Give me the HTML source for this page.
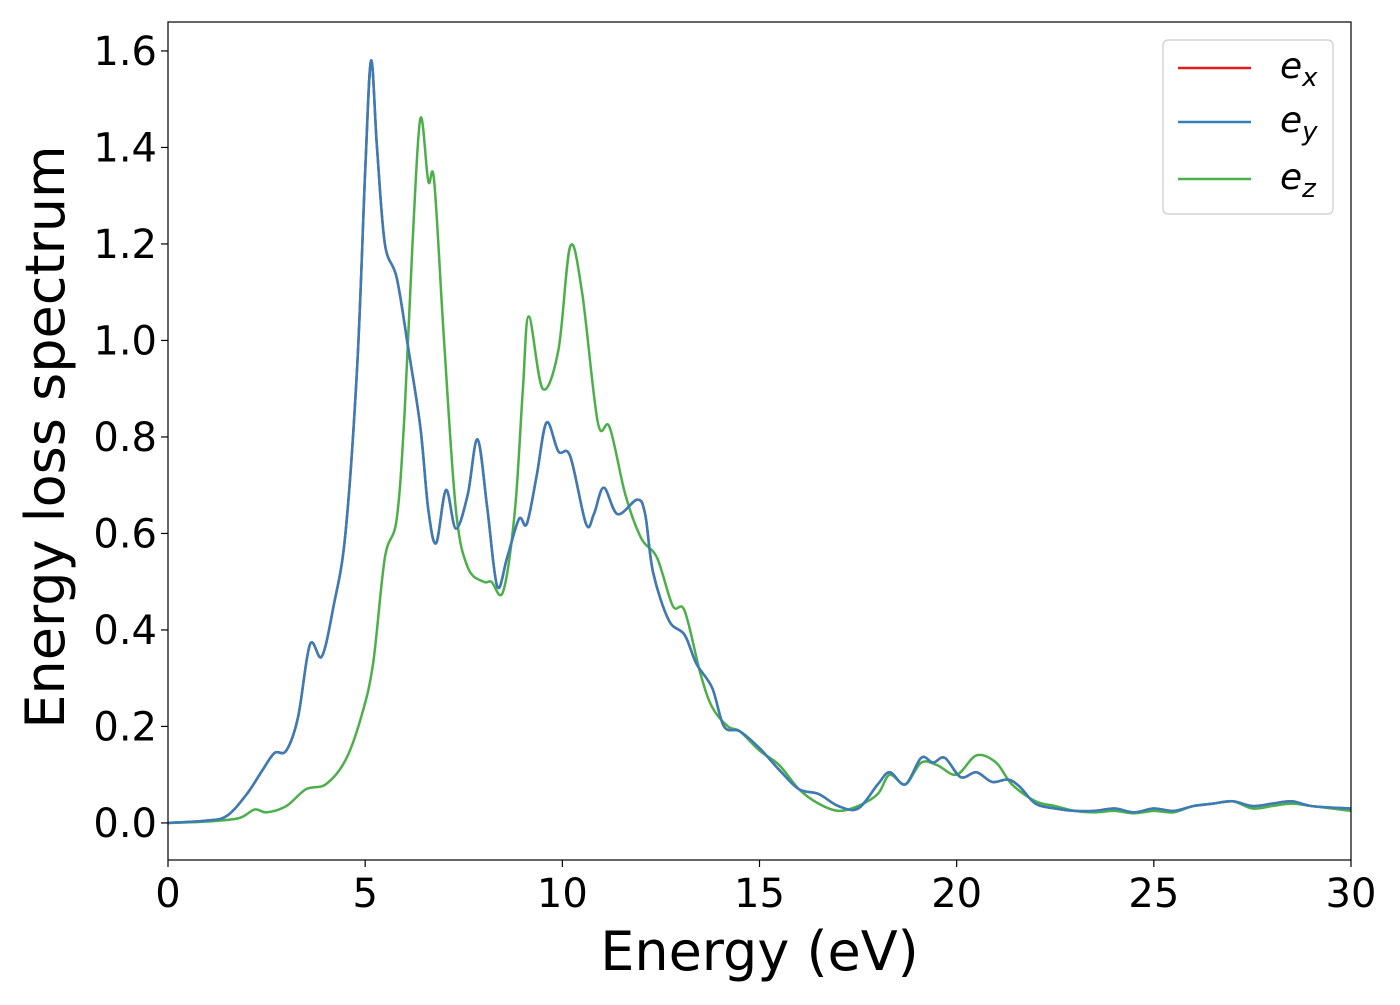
<!DOCTYPE html>
<html><head><meta charset="utf-8"><style>
body{margin:0;background:#fff;}
svg text{font-family:"DejaVu Sans","Liberation Sans",sans-serif;fill:#000;}
</style></head><body>
<svg width="1400" height="1000" xmlns="http://www.w3.org/2000/svg">
<g id="plot"></g>
</svg>
<script>
const xTicks=[0,5,10,15,20,25,30];
const yTicks=[0.0,0.2,0.4,0.6,0.8,1.0,1.2,1.4,1.6];
const exX=[0,1,1.5,2,2.4,2.7,3.0,3.3,3.6,3.9,4.2,4.5,4.8,5.0,5.15,5.3,5.5,5.8,6.1,6.4,6.6,6.8,7.05,7.3,7.6,7.85,8.1,8.35,8.6,8.9,9.1,9.35,9.6,9.9,10.2,10.6,10.8,11.05,11.4,11.9,12.1,12.3,12.7,13.1,13.4,13.8,14.1,14.5,15,15.5,16,16.5,17,17.5,18,18.3,18.7,19.1,19.4,19.7,20.1,20.5,20.9,21.3,21.6,22,22.5,23,23.5,24,24.5,25,25.5,26,26.5,27,27.5,28,28.5,29,30];
const exY=[0,0.005,0.015,0.06,0.11,0.145,0.15,0.22,0.37,0.345,0.45,0.6,0.95,1.35,1.58,1.4,1.2,1.13,0.98,0.82,0.65,0.58,0.69,0.61,0.68,0.795,0.65,0.49,0.55,0.63,0.62,0.72,0.83,0.77,0.76,0.62,0.64,0.695,0.64,0.67,0.64,0.52,0.42,0.39,0.33,0.28,0.2,0.19,0.155,0.11,0.07,0.06,0.035,0.03,0.08,0.105,0.08,0.135,0.125,0.135,0.095,0.105,0.085,0.09,0.075,0.04,0.03,0.025,0.025,0.03,0.022,0.03,0.025,0.035,0.04,0.045,0.035,0.04,0.045,0.035,0.03];
const eyX=exX;
const eyY=exY;
const ezX=[0,1,1.8,2.2,2.5,3,3.5,4,4.5,4.9,5.2,5.5,5.8,6.0,6.2,6.4,6.6,6.75,7.0,7.3,7.6,8.0,8.2,8.5,8.8,9.0,9.15,9.5,9.9,10.2,10.5,10.9,11.2,11.6,12.0,12.4,12.8,13.1,13.5,13.8,14.2,14.5,15,15.5,16,16.5,17,17.5,18,18.3,18.7,19.1,19.5,20,20.5,21,21.4,22,22.5,23,23.5,24,24.5,25,25.5,26,26.5,27,27.5,28,28.5,29,30];
const ezY=[0,0.003,0.01,0.028,0.022,0.035,0.07,0.08,0.13,0.22,0.33,0.55,0.63,0.85,1.2,1.46,1.33,1.33,1.0,0.65,0.53,0.5,0.5,0.48,0.65,0.9,1.05,0.9,0.98,1.195,1.1,0.83,0.82,0.68,0.59,0.55,0.45,0.44,0.31,0.24,0.2,0.19,0.15,0.12,0.07,0.04,0.025,0.035,0.06,0.1,0.08,0.125,0.12,0.1,0.14,0.125,0.08,0.045,0.035,0.025,0.022,0.025,0.02,0.025,0.022,0.035,0.04,0.045,0.03,0.035,0.04,0.035,0.025];

const L=168,R=1351,T=22,B=860;
const xmin=0,xmax=30,ymin=-0.0768,ymax=1.66;
const sx=v=>L+(v-xmin)/(xmax-xmin)*(R-L);
const sy=v=>B-(v-ymin)/(ymax-ymin)*(B-T);
const NS="http://www.w3.org/2000/svg";
const g=document.getElementById('plot');
function mk(tag,attrs){const e=document.createElementNS(NS,tag);for(const k in attrs)e.setAttribute(k,attrs[k]);g.appendChild(e);return e;}
function pathFor(xs,ys){
  const p=xs.map((x,i)=>[sx(x),sy(ys[i])]);
  let d='M'+p[0][0]+','+p[0][1];
  for(let i=0;i<p.length-1;i++){
    const p0=p[i-1]||p[i],p1=p[i],p2=p[i+1],p3=p[i+2]||p2;
    const c1=[p1[0]+(p2[0]-p0[0])/6,p1[1]+(p2[1]-p0[1])/6];
    const c2=[p2[0]-(p3[0]-p1[0])/6,p2[1]-(p3[1]-p1[1])/6];
    d+=`C${c1[0]},${c1[1]} ${c2[0]},${c2[1]} ${p2[0]},${p2[1]}`;
  }
  return d;
}
mk('defs',{}).innerHTML='<clipPath id="clip"><rect x="168" y="22" width="1183" height="838"/></clipPath>';
const series=[['ex-line',exX,exY,'#e41a1c'],['ez-line',ezX,ezY,'#4daf4a'],['ey-line',eyX,eyY,'#377eb8']];
for(const [n,xs,ys,c] of series){
  const e=mk('path',{d:pathFor(xs,ys),fill:'none',stroke:c,'stroke-width':2.5,'clip-path':'url(#clip)'});
  
  
}
const frame=mk('rect',{x:L,y:T,width:R-L,height:B-T,fill:'none',stroke:'#000','stroke-width':1.2});


for(const t of xTicks){
  const x=sx(t);
  mk('line',{x1:x,x2:x,y1:B,y2:B+7,stroke:'#000','stroke-width':1.2});
  const tx=mk('text',{x:x,y:B+47,'text-anchor':'middle','font-size':40});
  tx.textContent=t;
  
  
}
for(const t of yTicks){
  const y=sy(t);
  mk('line',{x1:L-7,x2:L,y1:y,y2:y,stroke:'#000','stroke-width':1.2});
  const tx=mk('text',{x:L-11,y:y+14,'text-anchor':'end','font-size':40});
  tx.textContent=t.toFixed(1);
  
  
}
const xl=mk('text',{x:(L+R)/2,y:970,'text-anchor':'middle','font-size':54});
xl.textContent='Energy (eV)';


const yl=mk('text',{x:0,y:0,'text-anchor':'middle','font-size':54,transform:`translate(64,${(T+B)/2-4}) rotate(-90)`});
yl.textContent='Energy loss spectrum';


const lb=mk('rect',{x:1163,y:40,width:170,height:174,rx:5,fill:'#fff',stroke:'#ccc','stroke-width':1.2});


const leg=[['x','#e41a1c',68],['y','#377eb8',122],['z','#4daf4a',179]];
for(const [s,c,y] of leg){
  const ln=mk('line',{x1:1178,x2:1251,y1:y,y2:y,stroke:c,'stroke-width':2.5});
  
  
  const tx=mk('text',{x:1280,y:y+10,'font-size':36,'font-style':'italic'});
  tx.innerHTML=`e<tspan font-size="26" dy="8">${s}</tspan>`;
  
  
}
</script>
</body></html>
